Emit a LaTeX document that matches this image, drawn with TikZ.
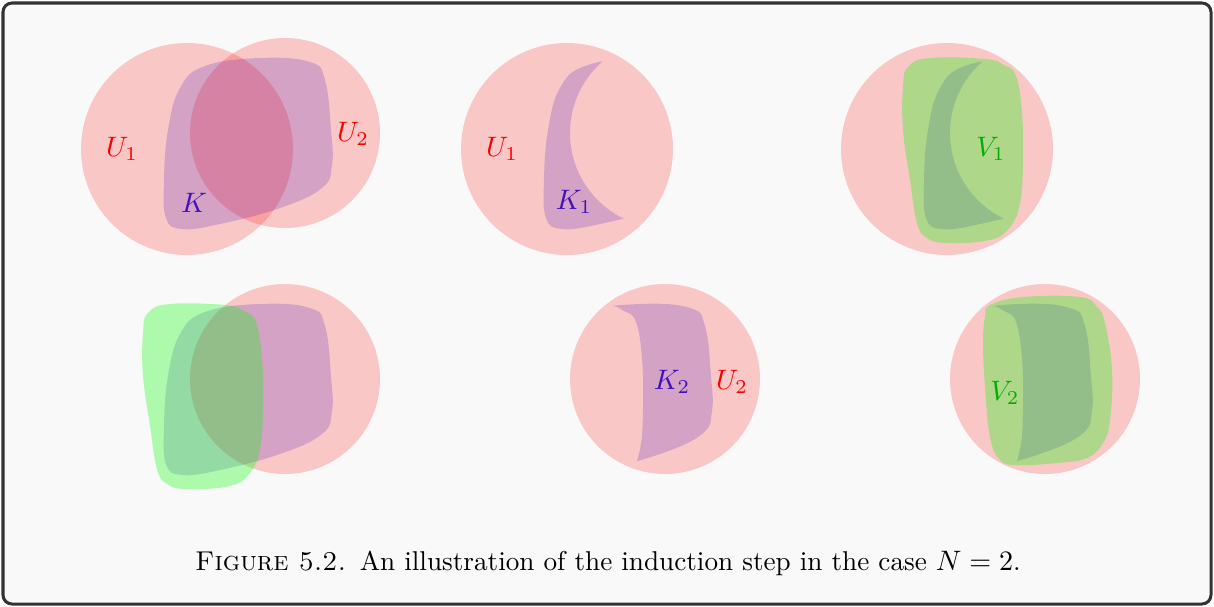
\documentclass[tikz,border=0pt]{standalone}
\usepackage{tikz}
\usetikzlibrary{positioning}
\definecolor{setRed}{HTML}{FF0000}
\definecolor{setViolet}{HTML}{4010C0}
\definecolor{setGreen}{HTML}{00FF00}
\definecolor{labGreen}{HTML}{00B000}
\definecolor{frameDark}{HTML}{333333}
\definecolor{frameBg}{HTML}{F9F9F9}

% shapes in the coordinates of the first panel
\newcommand{\pathK}{plot[smooth cycle, tension=0.7] coordinates {(180,88) (205,66) (260,58) (310,62) (325,80) (331,130) (332,165) (322,188) (280,208) (220,224) (182,229) (166,218) (164,180) (168,130)}}
\newcommand{\pathVone}{plot[smooth cycle, tension=0.7] coordinates {(148,67) (170,58) (225,59) (244,65) (256,76) (262,113) (263,163) (260,203) (250,227) (230,240) (187,243) (167,238) (157,223) (150,180) (143,130) (143,87)}}
\newcommand{\pathVtwo}{plot[smooth cycle, tension=0.7] coordinates {(230,59) (263,51) (320,51) (337,61) (345,77) (352,124) (350,174) (343,197) (327,212) (297,217) (257,219) (240,214) (230,191) (225,141) (223,97) (225,71)}}

\begin{document}
\begin{tikzpicture}[x=0.0125cm, y=-0.0125cm,
    uset/.style={fill=setRed, fill opacity=0.2},
    kset/.style={fill=setViolet, fill opacity=0.2},
    vset/.style={fill=setGreen, fill opacity=0.3},
    ulab/.style={text=setRed},
    klab/.style={text=setViolet},
    vlab/.style={text=labGreen},
  ]
    \useasboundingbox (0,0) rectangle (1214,607);
    \draw[frameDark, fill=frameBg, line width=1.07pt, rounded corners=3.2pt] (3,3) rectangle (1211,604);

    % K, U_1 and U_2
    \fill[uset] (187,149) circle[radius=106];
    \fill[uset] (285,133) circle[radius=95];
    \fill[kset] \pathK;
    \node[ulab] (u1a) at (122,149) {$U_1$};
    \node[ulab] (u2a) at (353,134) {$U_2$};
    \node[klab] (ka) at (194,203) {$K$};

    % K_1 = K \ U_2
    \begin{scope}[shift={(380,0)}]
      \fill[uset] (187,149) circle[radius=106];
      \begin{scope}[even odd rule]
        \clip (0,0) rectangle (400,300) (285,133) circle[radius=95];
        \fill[kset] \pathK;
      \end{scope}
      \node[ulab] (u1b) at (122,149) {$U_1$};
      \node[klab] (k1b) at (194,202) {$K_1$};
    \end{scope}

    % V_1
    \begin{scope}[shift={(760,0)}]
      \fill[uset] (187,149) circle[radius=106];
      \begin{scope}[even odd rule]
        \clip (0,0) rectangle (400,300) (285,133) circle[radius=95];
        \fill[kset] \pathK;
      \end{scope}
      \fill[vset] \pathVone;
      \node[vlab] (v1c) at (231,149) {$V_1$};
    \end{scope}

    % K, U_2 and V_1
    \begin{scope}[shift={(0,246)}]
      \fill[uset] (285,133) circle[radius=95];
      \fill[kset] \pathK;
      \fill[vset] \pathVone;
    \end{scope}

    % K_2 = K \ V_1
    \begin{scope}[shift={(380,246)}]
      \fill[uset] (285,133) circle[radius=95];
      \begin{scope}[even odd rule]
        \clip (0,0) rectangle (400,300) \pathVone;
        \fill[kset] \pathK;
      \end{scope}
      \node[klab] (k2e) at (292,136) {$K_2$};
      \node[ulab] (u2e) at (352,136) {$U_2$};
    \end{scope}

    % V_2
    \begin{scope}[shift={(760,246)}]
      \fill[uset] (285,133) circle[radius=95];
      \begin{scope}[even odd rule]
        \clip (0,0) rectangle (400,300) \pathVone;
        \fill[kset] \pathK;
      \end{scope}
      \fill[vset] \pathVtwo;
      \node[vlab] (v2f) at (245,147) {$V_2$};
    \end{scope}

    \node[font=\fontsize{9.67}{11.6}\selectfont] (caption) at (608,563) {\textsc{Figure 5.2.}\enspace An illustration of the induction step in the case $N=2$.};
  \end{tikzpicture}
\end{document}
